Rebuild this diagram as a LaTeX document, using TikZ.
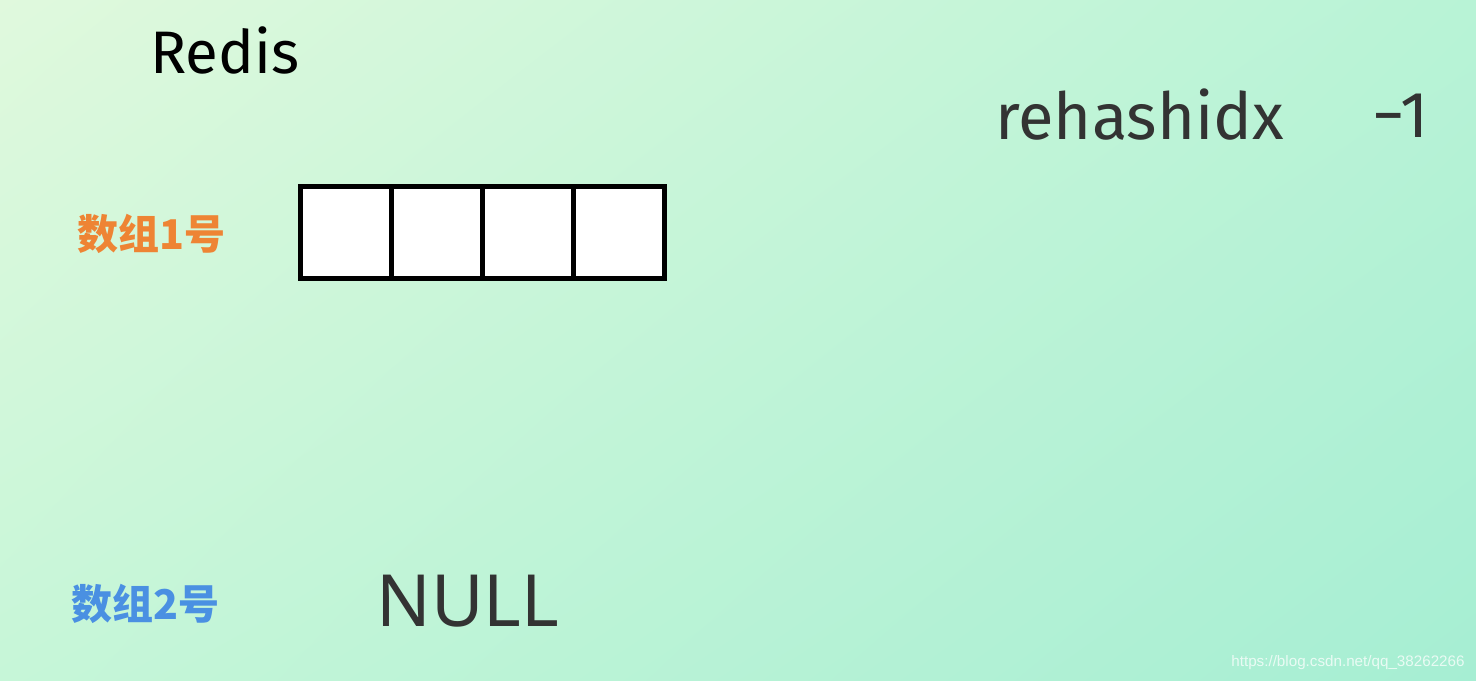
\documentclass[tikz,border=0pt]{standalone}
\usepackage{fontspec}
\usetikzlibrary{shadings}
\setmainfont{Fira Sans}
\newfontfamily\cjkfont{Noto Sans CJK SC}
\newfontfamily\mynullfont{Noto Sans}
\newfontfamily\wmfont{Liberation Sans}
\definecolor{bgTL}{RGB}{224,249,221}
\definecolor{bgTR}{RGB}{184,243,214}
\definecolor{bgBL}{RGB}{198,246,216}
\definecolor{bgBR}{RGB}{166,238,211}
\definecolor{darktext}{RGB}{51,51,51}
\definecolor{orangelabel}{RGB}{238,132,52}
\definecolor{bluelabel}{RGB}{74,144,226}
\tikzset{
  cell/.style={draw=black, line width=2.5pt, fill=white, minimum width=45.5pt, minimum height=46pt, inner sep=0pt, outer sep=0pt},
  title/.style={inner sep=0pt, anchor=base west, text=black, font=\fontsize{30}{30}\selectfont},
  hand/.style={inner sep=0pt, anchor=base west, text=darktext, font=\fontsize{32.5}{32.5}\selectfont},
  cjklabel/.style={inner sep=0pt, anchor=west, font=\cjkfont\bfseries\fontsize{20.5}{20.5}\selectfont},
  nulltext/.style={inner sep=0pt, anchor=base west, text=darktext, font=\mynullfont\fontsize{36}{36}\selectfont},
  watermark/.style={inner sep=0pt, anchor=base east, text=white, opacity=0.75, font=\wmfont\fontsize{7.6}{7.6}\selectfont}
}
\begin{document}
\begin{tikzpicture}[x=0.5pt,y=-0.5pt]
\useasboundingbox (0,0) rectangle (1476,680);
\shade[upper left=bgTL, upper right=bgTR, lower left=bgBL, lower right=bgBR] (0,0) rectangle (1476,680);
\node[title] (redis) at (150,73) {Redis};
\node[hand] (rehash) at (995,139) {rehashidx};
\node[hand] (val) at (1372,137) {−1};
\node[cjklabel, text=orangelabel] (arr1) at (77,234) {数组1号};
\node[cjklabel, text=bluelabel] (arr2) at (71,604) {数组2号};
\node[cell] (c1) at (346,232) {};
\node[cell] (c2) at (437,232) {};
\node[cell] (c3) at (528,232) {};
\node[cell] (c4) at (619,232) {};
\node[nulltext] (null) at (376,626) {NULL};
\node[watermark] (wm) at (1465,666) {https://blog.csdn.net/qq\_38262266};
\end{tikzpicture}
\end{document}
